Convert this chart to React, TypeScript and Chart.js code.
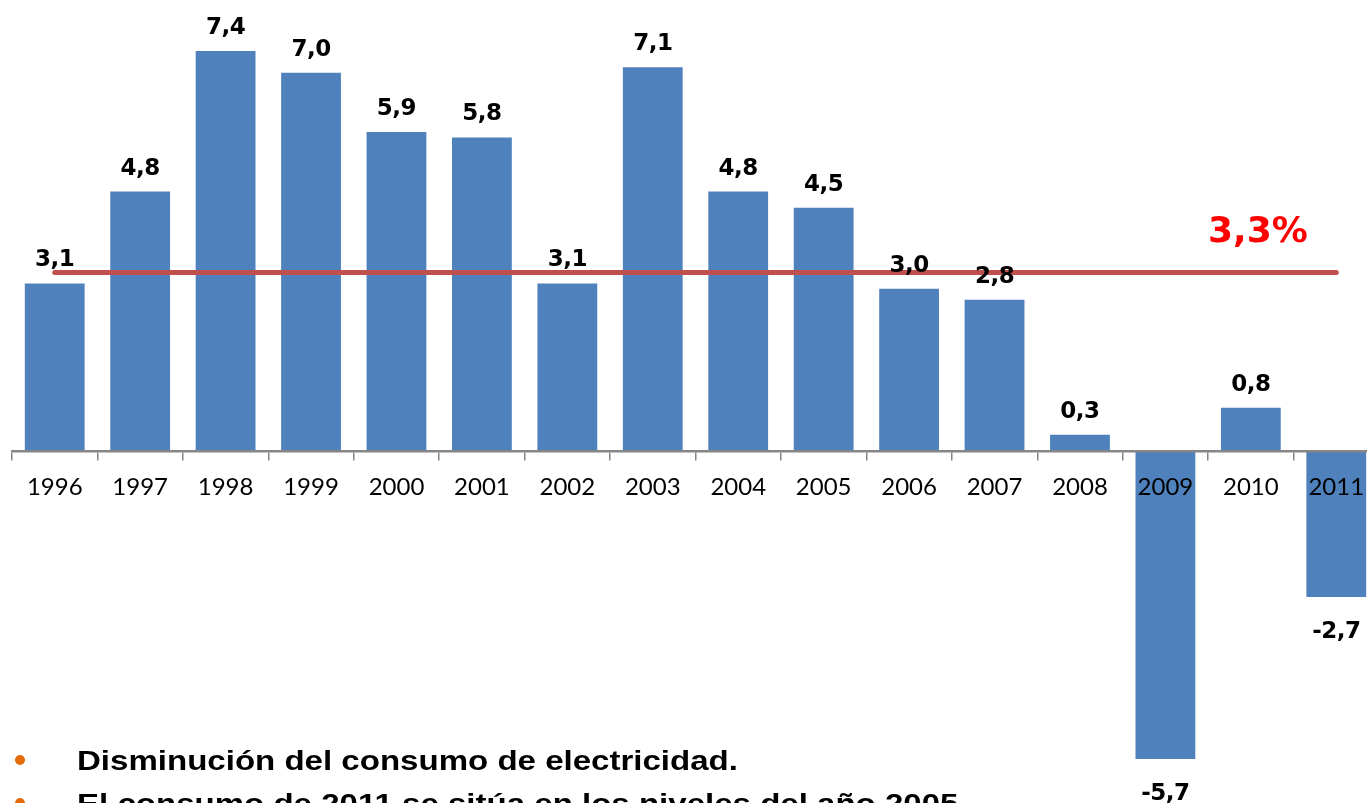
import React, { useEffect, useRef } from "react";
import { Chart, registerables } from "chart.js";

Chart.register(...registerables);

const years = ["1996", "1997", "1998", "1999", "2000", "2001", "2002", "2003", "2004", "2005", "2006", "2007", "2008", "2009", "2010", "2011"];
const growth = [3.1, 4.8, 7.4, 7.0, 5.9, 5.8, 3.1, 7.1, 4.8, 4.5, 3.0, 2.8, 0.3, -5.7, 0.8, -2.7];
const averageLine = [3.3, 3.3, 3.3, 3.3, 3.3, 3.3, 3.3, 3.3, 3.3, 3.3, 3.3, 3.3, 3.3, 3.3, 3.3, 3.3];
const averageLabel = "3,3%";
const bullets = [
  "Disminución del consumo de electricidad.",
  "El consumo de 2011 se sitúa en los niveles del año 2005.",
];

const labelsPlugin = {
  id: "barLabels",
  afterDatasetsDraw(chart: any) {
    const ctx = chart.ctx;
    const meta = chart.getDatasetMeta(0);
    ctx.save();
    ctx.font = 'bold 23px "DejaVu Sans"';
    (ctx as any).letterSpacing = "-0.5px";
    ctx.fillStyle = "#000000";
    ctx.textAlign = "center";
    ctx.textBaseline = "alphabetic";
    meta.data.forEach((bar: any, i: number) => {
      const v = growth[i];
      const txt = v.toFixed(1).replace(".", ",");
      if (v >= 0) {
        ctx.fillText(txt, bar.x, bar.y - 17);
      } else {
        ctx.fillText(txt, bar.x, bar.y + 41);
      }
    });
    const lineMeta = chart.getDatasetMeta(1);
    const p1 = lineMeta.data[14];
    (ctx as any).letterSpacing = "0px";
    ctx.font = 'bold 36px "DejaVu Sans"';
    ctx.fillStyle = "#FF0000";
    ctx.fillText(averageLabel, p1.x + 7, p1.y - 31);
    ctx.restore();
  },
};

export default function App() {
  const ref = useRef<HTMLCanvasElement>(null);

  useEffect(() => {
    document.body.style.margin = "0";
    const chart = new Chart(ref.current as HTMLCanvasElement, {
      type: "bar",
      data: {
        labels: years,
        datasets: [
          {
            type: "bar",
            data: growth,
            backgroundColor: "#4F81BD",
            barPercentage: 0.7,
            categoryPercentage: 1,
            order: 2,
          } as any,
          {
            type: "line",
            data: averageLine,
            borderColor: "#C0504D",
            borderWidth: 5,
            borderCapStyle: "round",
            pointRadius: 0,
            fill: false,
            order: 1,
          } as any,
        ],
      },
      options: {
        responsive: false,
        animation: false,
        layout: { padding: { left: 12, right: 0, top: 0, bottom: 0 } },
        plugins: { legend: { display: false }, tooltip: { enabled: false } },
        scales: {
          x: {
            position: { y: 0 } as any,
            offset: true,
            grid: {
              display: true,
              drawOnChartArea: false,
              drawTicks: true,
              tickLength: 8,
              color: "#868686",
              lineWidth: 1.5,
              offset: true,
              z: 1,
            } as any,
            border: { display: true, color: "#868686", width: 2.5, z: 1 } as any,
            ticks: {
              autoSkip: false,
              maxRotation: 0,
              color: "#000000",
              font: { family: "Lato", size: 24 },
              padding: 14,
              z: 1,
            } as any,
          },
          y: { display: false, min: -6.513, max: 8.344 },
        },
      },
      plugins: [labelsPlugin],
    });
    return () => chart.destroy();
  }, []);

  return (
    <div style={{ position: "fixed", left: 0, top: 0, width: 1367, height: 803, overflow: "hidden", background: "#fff" }}>
      <canvas ref={ref} width={1379} height={803} style={{ position: "absolute", left: 0, top: 0 }} />
      {bullets.map((b, i) => (
        <div key={i} style={{ position: "absolute", left: 0, top: 739 + i * 43, width: 1367, height: 43, lineHeight: "43px", whiteSpace: "nowrap", fontFamily: '"Liberation Sans", Arial, sans-serif', fontWeight: "bold", fontSize: 28, color: "#000" }}>
          <div style={{ position: "absolute", left: 15, top: 16, width: 10, height: 10, borderRadius: "50%", background: "#E46C0A" }} />
          <span style={{ position: "absolute", left: 77, transform: "scaleX(1.18)", transformOrigin: "left center" }}>{b}</span>
        </div>
      ))}
    </div>
  );
}
